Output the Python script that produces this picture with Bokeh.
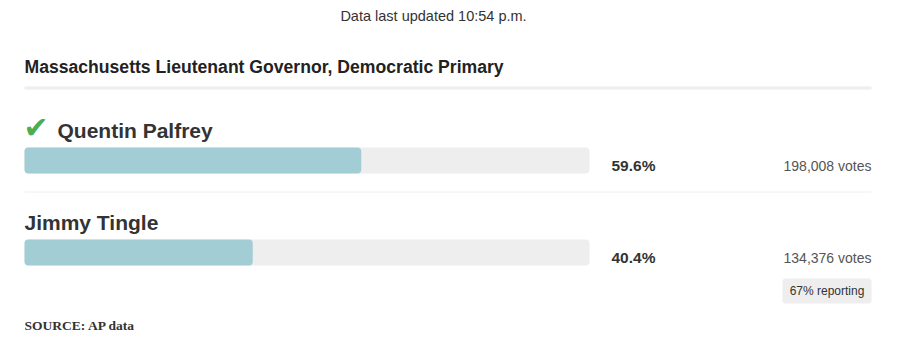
from bokeh.plotting import figure
from bokeh.models import Range1d
from bokeh.core.properties import value
from bokeh.embed import file_html
from bokeh.resources import INLINE

# ---- data ----
candidates = ["Quentin Palfrey", "Jimmy Tingle"]
pct = [59.6, 40.4]
votes = [198008, 134376]
winner = [True, False]
reporting = 67
title = "Massachusetts Lieutenant Governor, Democratic Primary"
updated = "Data last updated 10:54 p.m."
source = "SOURCE: AP data"

# ---- layout ----
W, H = 902, 352
LEFT, TRACK_W, RIGHT = 24, 565, 871
ROW_TOP = [108, 200]          # top pixel of each candidate block
SANS = value("Liberation Sans")

p = figure(width=W, height=H, output_backend="svg", toolbar_location=None,
           x_range=Range1d(-LEFT / TRACK_W * 100, (W - LEFT) / TRACK_W * 100),
           y_range=Range1d(H, 0), min_border=0,
           x_axis_location=None, y_axis_location=None)
p.grid.visible = False
p.outline_line_color = None
p.background_fill_color = "white"
p.border_fill_color = "white"
p.extra_x_ranges = {"px": Range1d(0, W)}


def label(x, base, txt, size, align="left", bold=False, color="#333333", font=SANS):
    p.text(x=[x], y=[base - 0.35 * size], text=[txt], x_range_name="px",
           text_font=font, text_font_size=f"{size}px",
           text_font_style="bold" if bold else "normal", text_color=color,
           text_align=align, text_baseline="middle")


# header
label(433, 20.5, updated, 14.5, align="center")
label(LEFT, 73, title, 17.6, bold=True, color="#222222")
p.segment(x0=[LEFT], x1=[RIGHT], y0=[87.5], y1=[87.5], x_range_name="px",
          line_color="#eeeeee", line_width=3)

bar_y = [t + 52 for t in ROW_TOP]

# bars
p.hbar(y=bar_y, left=0, right=100, height=26, fill_color="#eeeeee",
       line_color=None, border_radius=4)
p.hbar(y=bar_y, left=0, right=pct, height=26, fill_color="#a3cdd4",
       line_color=None, border_radius=4)

for i, name in enumerate(candidates):
    top = ROW_TOP[i]
    nx = LEFT
    if winner[i]:
        label(LEFT - 1, top + 29, "\u2714", 30, color="#4cae50", font=value("DejaVu Sans"))
        nx = 57
    label(nx, top + 29, name, 21, bold=True)
    label(611, top + 62, f"{pct[i]:.1f}%", 15.5, bold=True)
    label(RIGHT, top + 62, f"{votes[i]:,} votes", 14, align="right", color="#555555")

# separator between rows
p.segment(x0=[LEFT], x1=[RIGHT], y0=[191.5], y1=[191.5], x_range_name="px",
          line_color="#eeeeee", line_width=1)

# reporting badge
p.quad(left=[782], right=[RIGHT], top=[278], bottom=[303], x_range_name="px",
       fill_color="#eeeeee", line_color=None, border_radius=3)
label(826.5, 295, f"{reporting}% reporting", 12, align="center")

# source
label(LEFT, 329.5, source, 13.5, bold=True, font=value("Liberation Serif"))

open("out.html", "w").write(file_html(p, INLINE))
